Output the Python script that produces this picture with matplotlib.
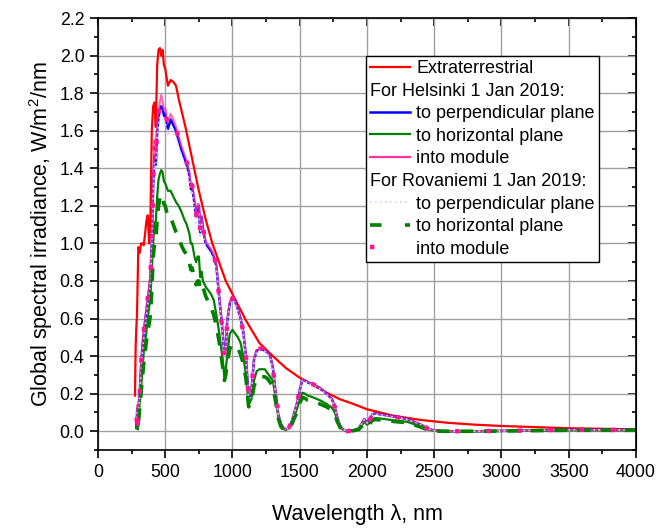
import matplotlib
matplotlib.use('Agg')
import matplotlib.pyplot as plt
from matplotlib.lines import Line2D
from matplotlib.ticker import MultipleLocator

plt.rcParams['font.family'] = ['Liberation Sans', 'DejaVu Sans']
plt.rcParams['mathtext.fontset'] = 'custom'
plt.rcParams['mathtext.rm'] = 'Liberation Sans'
plt.rcParams['mathtext.it'] = 'Liberation Sans:italic'

# extraterrestrial spectrum
ext_wl = [275, 280, 285, 290, 300, 310, 320, 330, 340, 350, 360, 370, 380, 390,
          400, 410, 420, 430, 440, 450, 460, 470, 480, 490, 500, 520, 540, 560,
          580, 600, 650, 700, 750, 800, 850, 900, 950, 1000, 1100, 1200, 1300,
          1400, 1500, 1600, 1700, 1800, 1900, 2000, 2200, 2400, 2600, 2800,
          3000, 3500, 4000]
ext = [0.19, 0.45, 0.55, 0.62, 0.98, 0.95, 1.0, 1.0, 0.99, 1.05, 1.12, 1.15,
       1.0, 1.15, 1.6, 1.73, 1.75, 1.62, 1.95, 2.03, 2.04, 2.0, 2.03, 1.95,
       1.93, 1.84, 1.87, 1.86, 1.84, 1.77, 1.62, 1.45, 1.28, 1.13, 1.0, 0.9,
       0.8, 0.73, 0.59, 0.47, 0.4, 0.335, 0.285, 0.245, 0.205, 0.17, 0.145,
       0.117, 0.082, 0.06, 0.045, 0.035, 0.028, 0.016, 0.01]

# terrestrial spectra on a common wavelength grid
wl = [288, 292, 296, 300, 310, 320, 330, 340, 350, 360, 370, 380, 390, 400,
      410, 420, 430, 440, 450, 460, 470, 480, 490, 500, 520, 540, 560, 580,
      600, 620, 640, 660, 680, 690, 700, 720, 730, 740, 750, 760, 770, 780,
      800, 820, 840, 860, 880, 900, 920, 940, 950, 960, 980, 1000, 1020, 1040,
      1060, 1080, 1100, 1120, 1140, 1160, 1180, 1200, 1220, 1240, 1260, 1280,
      1300, 1320, 1340, 1360, 1380, 1400, 1420, 1440, 1460, 1480, 1500, 1520,
      1540, 1560, 1600, 1650, 1700, 1740, 1760, 1780, 1800, 1820, 1850, 1900,
      1940, 1960, 1980, 2000, 2020, 2040, 2060, 2100, 2200, 2300, 2350, 2400,
      2450, 2500, 2600, 2800, 3000, 3200, 3500, 4000]

hel_perp = [0.05, 0.12, 0.03, 0.12, 0.2, 0.34, 0.45, 0.52, 0.58, 0.64, 0.7,
            0.75, 0.82, 1.0, 1.3, 1.47, 1.42, 1.6, 1.67, 1.71, 1.73, 1.72,
            1.68, 1.69, 1.61, 1.66, 1.63, 1.6, 1.55, 1.5, 1.46, 1.42, 1.36,
            1.29, 1.3, 1.2, 1.14, 1.19, 1.2, 1.06, 1.14, 1.08, 1.0, 0.98, 0.96,
            0.93, 0.88, 0.72, 0.58, 0.41, 0.42, 0.58, 0.68, 0.71, 0.69, 0.65,
            0.6, 0.53, 0.4, 0.17, 0.21, 0.38, 0.43, 0.435, 0.435, 0.43, 0.42,
            0.4, 0.34, 0.21, 0.09, 0.04, 0.015, 0.01, 0.02, 0.05, 0.1, 0.15,
            0.22, 0.275, 0.27, 0.26, 0.25, 0.23, 0.2, 0.17, 0.13, 0.07, 0.03,
            0.01, 0.0, 0.005, 0.015, 0.04, 0.065, 0.045, 0.06, 0.09, 0.095,
            0.09, 0.078, 0.065, 0.05, 0.035, 0.015, 0.003, 0.0, 0.0, 0.002,
            0.004, 0.008, 0.007]

hel_horiz = [0.02, 0.06, 0.01, 0.05, 0.15, 0.22, 0.32, 0.42, 0.47, 0.53, 0.6,
             0.66, 0.72, 0.85, 1.0, 1.11, 1.12, 1.25, 1.34, 1.37, 1.39, 1.38,
             1.33, 1.32, 1.28, 1.28, 1.25, 1.22, 1.2, 1.17, 1.13, 1.1, 1.05,
             1.0, 1.0, 0.92, 0.9, 0.93, 0.93, 0.82, 0.85, 0.8, 0.77, 0.75,
             0.73, 0.7, 0.62, 0.53, 0.42, 0.29, 0.33, 0.4, 0.52, 0.54, 0.52,
             0.5, 0.47, 0.4, 0.3, 0.14, 0.17, 0.27, 0.32, 0.33, 0.33, 0.33,
             0.31, 0.29, 0.27, 0.18, 0.08, 0.03, 0.01, 0.008, 0.02, 0.04, 0.08,
             0.12, 0.17, 0.205, 0.2, 0.19, 0.18, 0.165, 0.145, 0.125, 0.1,
             0.06, 0.025, 0.01, 0.0, 0.004, 0.012, 0.03, 0.05, 0.035, 0.045,
             0.065, 0.07, 0.068, 0.058, 0.05, 0.038, 0.026, 0.01, 0.002, 0.0,
             0.0, 0.001, 0.003, 0.005, 0.005]

hel_module = [0.05, 0.14, 0.04, 0.13, 0.21, 0.35, 0.47, 0.54, 0.6, 0.66,
              0.72, 0.77, 0.84, 1.02, 1.33, 1.55, 1.45, 1.64, 1.7, 1.75, 1.79,
              1.76, 1.71, 1.72, 1.64, 1.69, 1.66, 1.62, 1.57, 1.52, 1.48, 1.44,
              1.38, 1.3, 1.32, 1.22, 1.16, 1.21, 1.21, 1.08, 1.15, 1.09, 1.01,
              0.99, 0.97, 0.94, 0.89, 0.73, 0.58, 0.41, 0.42, 0.59, 0.69, 0.71,
              0.69, 0.65, 0.6, 0.53, 0.4, 0.18, 0.22, 0.39, 0.43, 0.44, 0.44,
              0.435, 0.42, 0.4, 0.34, 0.21, 0.09, 0.04, 0.015, 0.01, 0.02,
              0.05, 0.1, 0.15, 0.22, 0.28, 0.27, 0.26, 0.25, 0.23, 0.2, 0.17,
              0.13, 0.07, 0.03, 0.01, 0.0, 0.005, 0.015, 0.04, 0.065, 0.045,
              0.06, 0.09, 0.095, 0.09, 0.078, 0.065, 0.05, 0.035, 0.015, 0.003,
              0.0, 0.0, 0.002, 0.004, 0.008, 0.007]

rov_perp = [0.04, 0.1, 0.02, 0.1, 0.18, 0.31, 0.42, 0.49, 0.55, 0.61, 0.67,
            0.72, 0.79, 0.97, 1.26, 1.43, 1.38, 1.56, 1.63, 1.67, 1.69, 1.68,
            1.64, 1.65, 1.57, 1.62, 1.59, 1.56, 1.51, 1.47, 1.43, 1.39, 1.33,
            1.26, 1.27, 1.17, 1.11, 1.16, 1.17, 1.03, 1.11, 1.05, 0.98, 0.96,
            0.94, 0.91, 0.86, 0.7, 0.56, 0.4, 0.41, 0.57, 0.67, 0.7, 0.68,
            0.64, 0.59, 0.52, 0.39, 0.16, 0.2, 0.37, 0.42, 0.43, 0.43, 0.425,
            0.41, 0.39, 0.33, 0.2, 0.09, 0.04, 0.015, 0.01, 0.02, 0.05, 0.1,
            0.15, 0.22, 0.27, 0.265, 0.255, 0.245, 0.225, 0.195, 0.165, 0.125,
            0.07, 0.03, 0.01, 0.0, 0.005, 0.015, 0.04, 0.063, 0.044, 0.058,
            0.088, 0.093, 0.088, 0.076, 0.063, 0.048, 0.034, 0.014, 0.003,
            0.0, 0.0, 0.002, 0.004, 0.008, 0.007]

rov_horiz = [0.01, 0.05, 0.01, 0.04, 0.12, 0.2, 0.28, 0.36, 0.42, 0.48, 0.53,
             0.57, 0.62, 0.75, 0.92, 1.0, 1.02, 1.12, 1.2, 1.24, 1.26, 1.25,
             1.21, 1.2, 1.14, 1.14, 1.1, 1.06, 1.03, 0.99, 0.96, 0.94, 0.9,
             0.86, 0.87, 0.8, 0.78, 0.8, 0.8, 0.76, 0.78, 0.77, 0.72, 0.69,
             0.66, 0.62, 0.56, 0.48, 0.38, 0.27, 0.3, 0.36, 0.44, 0.46, 0.46,
             0.44, 0.41, 0.36, 0.28, 0.13, 0.15, 0.24, 0.28, 0.29, 0.29, 0.29,
             0.28, 0.26, 0.24, 0.16, 0.07, 0.025, 0.008, 0.006, 0.015, 0.035,
             0.07, 0.1, 0.15, 0.18, 0.175, 0.165, 0.16, 0.145, 0.13, 0.11,
             0.09, 0.05, 0.02, 0.008, 0.0, 0.003, 0.01, 0.025, 0.045, 0.03,
             0.04, 0.058, 0.062, 0.06, 0.052, 0.045, 0.034, 0.022, 0.008, 0.001,
             0.0, 0.0, 0.001, 0.003, 0.005, 0.005]

rov_module = [0.05, 0.13, 0.04, 0.12, 0.2, 0.35, 0.46, 0.53, 0.59, 0.65,
              0.71, 0.76, 0.83, 1.0, 1.32, 1.52, 1.44, 1.62, 1.69, 1.73, 1.76,
              1.74, 1.7, 1.7, 1.63, 1.67, 1.64, 1.61, 1.56, 1.51, 1.47, 1.43,
              1.37, 1.29, 1.31, 1.21, 1.15, 1.2, 1.2, 1.07, 1.14, 1.09, 1.0,
              0.98, 0.97, 0.94, 0.88, 0.72, 0.57, 0.4, 0.41, 0.58, 0.68, 0.71,
              0.69, 0.65, 0.6, 0.53, 0.4, 0.18, 0.21, 0.39, 0.43, 0.44, 0.44,
              0.43, 0.42, 0.4, 0.34, 0.21, 0.09, 0.04, 0.015, 0.01, 0.02, 0.05,
              0.1, 0.15, 0.22, 0.28, 0.27, 0.26, 0.25, 0.23, 0.2, 0.17, 0.13,
              0.07, 0.03, 0.01, 0.0, 0.005, 0.015, 0.04, 0.065, 0.045, 0.06,
              0.09, 0.095, 0.09, 0.078, 0.065, 0.05, 0.035, 0.015, 0.003, 0.0,
              0.0, 0.002, 0.004, 0.008, 0.007]

headers = ['For Helsinki 1 Jan 2019:', 'For Rovaniemi 1 Jan 2019:']

fig = plt.figure(figsize=(6.59, 5.30), dpi=100)
ax = fig.add_axes([0.1487, 0.1509, 0.8164, 0.8151])

ax.plot(ext_wl, ext, color='#ff0000', lw=1.6)
ax.plot(wl, hel_perp, color='#0000ff', lw=1.8)
ax.plot(wl, hel_horiz, color='#008000', lw=1.6)
ax.plot(wl, hel_module, color='#ff3399', lw=1.5, alpha=0.75)
ax.plot(wl, rov_perp, color='#d0d0ff', lw=1.2, ls=(0, (1, 2)))
ax.plot(wl, rov_horiz, color='#008000', lw=2.6, ls=(0, (3.5, 3)),
        dash_capstyle='butt')
ax.plot(wl, rov_module, color='#ff1493', lw=3.2, ls=(0, (1, 6)),
        dash_capstyle='butt')

ax.set_xlim(0, 4000)
ax.set_ylim(-0.1, 2.2)
ax.xaxis.set_major_locator(MultipleLocator(500))
ax.xaxis.set_minor_locator(MultipleLocator(250))
ax.set_yticks([i * 0.2 for i in range(12)])
ax.yaxis.set_minor_locator(MultipleLocator(0.1))
ax.yaxis.set_major_formatter(plt.FuncFormatter(lambda v, p: f'{v:.1f}'))

ax.grid(True, which='major', color='#a0a0a0', lw=1.0)
ax.set_axisbelow(True)
for s in ax.spines.values():
    s.set_linewidth(1.2)
ax.tick_params(which='major', direction='out', length=5.8, width=1.2,
               labelsize=12.8, pad=4)
ax.tick_params(which='minor', direction='out', length=3, width=1.2)

# mirrored axes on top and right with inward ticks
top = ax.secondary_xaxis('top')
top.xaxis.set_major_locator(MultipleLocator(500))
top.xaxis.set_minor_locator(MultipleLocator(250))
top.tick_params(which='major', direction='in', length=5.5, width=1.2,
                labeltop=False)
top.tick_params(which='minor', direction='in', length=3, width=1.2)
right = ax.secondary_yaxis('right')
right.yaxis.set_major_locator(MultipleLocator(0.2))
right.yaxis.set_minor_locator(MultipleLocator(0.1))
right.tick_params(which='major', direction='in', length=5.5, width=1.2,
                  labelright=False)
right.tick_params(which='minor', direction='in', length=3, width=1.2)

ax.set_xlabel('Wavelength λ, nm', fontsize=15.5)
ax.xaxis.set_label_coords(0.483, -0.125)
ax.set_ylabel(r'Global spectral irradiance, W/m$^2$/nm', fontsize=15.5,
              labelpad=3)

blank = Line2D([], [], color='none')
handles = [
    Line2D([], [], color='#ff0000', lw=1.6),
    blank,
    Line2D([], [], color='#0000ff', lw=1.8),
    Line2D([], [], color='#008000', lw=1.6),
    Line2D([], [], color='#ff3399', lw=1.6),
    blank,
    Line2D([], [], color='#d0d0ff', lw=1.2, ls=(0, (1, 2))),
    Line2D([], [], color='#008000', lw=2.6, ls=(0, (3.2, 6.5))),
    Line2D([], [], color='#ff1493', lw=3.2, ls=(0, (1, 8))),
]
labels = ['Extraterrestrial', ' ', 'to perpendicular plane',
          'to horizontal plane', 'into module', ' ',
          'to perpendicular plane', 'to horizontal plane', 'into module']
leg_fs = 13
hl, htp = 2.25, 0.33
leg = ax.legend(handles, labels, loc='upper right',
                bbox_to_anchor=(0.931, 0.912), fontsize=leg_fs,
                frameon=True, fancybox=False, framealpha=1,
                edgecolor='black', handlelength=hl, handletextpad=htp,
                borderpad=0.22, labelspacing=0.31, borderaxespad=0)
leg.get_frame().set_linewidth(1.0)

# group headings sit in the blank rows, starting where line samples start
fig.canvas.draw()
shift = (hl + htp) * leg_fs * fig.dpi / 72
inv = fig.transFigure.inverted()
blank_rows = [t for t in leg.get_texts() if t.get_text() == ' ']
for t, head in zip(blank_rows, headers):
    x0, y0 = t.get_transform().transform((0, 0))
    fx, fy = inv.transform((x0 - shift, y0))
    fig.text(fx, fy, head, fontsize=leg_fs, ha='left', va='baseline',
             zorder=10)

fig.savefig('out.png', dpi=100)
